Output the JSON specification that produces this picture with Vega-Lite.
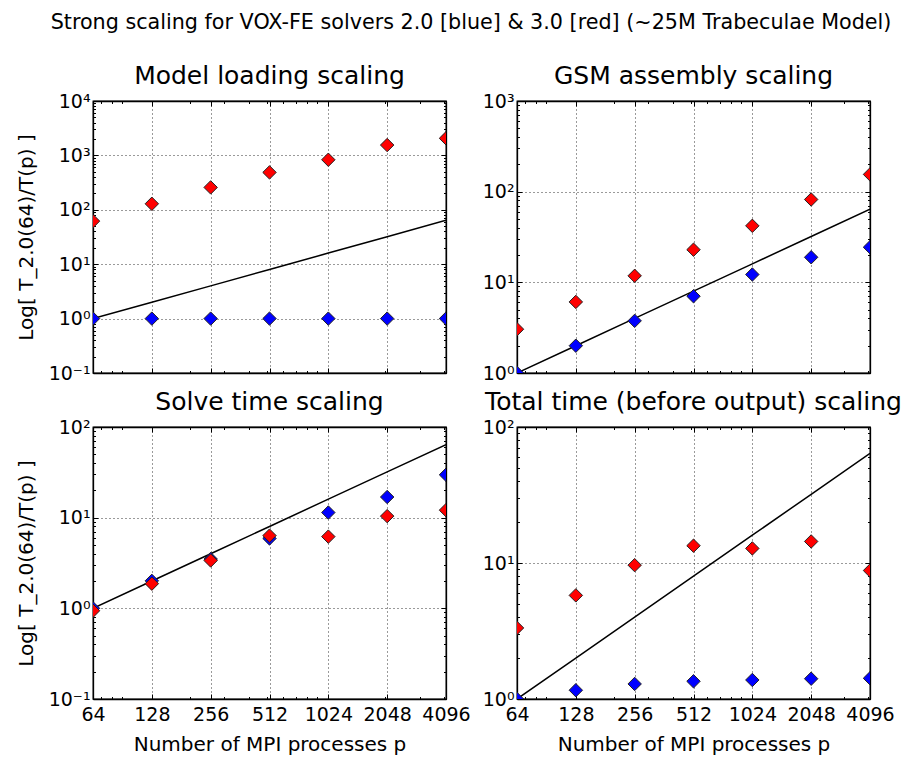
{
  "$schema": "https://vega.github.io/schema/vega-lite/v6.json",
  "padding": {"left": 15, "top": 11, "right": 5, "bottom": 5},
  "title": {"text": "Strong scaling for VOX-FE solvers 2.0 [blue] & 3.0 [red] (~25M Trabeculae Model)", "fontSize": 20.7, "anchor": "middle", "offset": 30, "dx": 12},
  "datasets": {
    "d": [
      {"panel": "load", "series": "ideal", "p": 64, "v": 1},
      {"panel": "load", "series": "ideal", "p": 128, "v": 2},
      {"panel": "load", "series": "ideal", "p": 256, "v": 4},
      {"panel": "load", "series": "ideal", "p": 512, "v": 8},
      {"panel": "load", "series": "ideal", "p": 1024, "v": 16},
      {"panel": "load", "series": "ideal", "p": 2048, "v": 32},
      {"panel": "load", "series": "ideal", "p": 4096, "v": 64},
      {"panel": "load", "series": "2.0", "p": 64, "v": 1},
      {"panel": "load", "series": "2.0", "p": 128, "v": 1},
      {"panel": "load", "series": "2.0", "p": 256, "v": 1},
      {"panel": "load", "series": "2.0", "p": 512, "v": 1},
      {"panel": "load", "series": "2.0", "p": 1024, "v": 1},
      {"panel": "load", "series": "2.0", "p": 2048, "v": 1},
      {"panel": "load", "series": "2.0", "p": 4096, "v": 1},
      {"panel": "load", "series": "3.0", "p": 64, "v": 62},
      {"panel": "load", "series": "3.0", "p": 128, "v": 129},
      {"panel": "load", "series": "3.0", "p": 256, "v": 258},
      {"panel": "load", "series": "3.0", "p": 512, "v": 487},
      {"panel": "load", "series": "3.0", "p": 1024, "v": 832},
      {"panel": "load", "series": "3.0", "p": 2048, "v": 1550},
      {"panel": "load", "series": "3.0", "p": 4096, "v": 2060},

      {"panel": "gsm", "series": "ideal", "p": 64, "v": 1},
      {"panel": "gsm", "series": "ideal", "p": 128, "v": 2},
      {"panel": "gsm", "series": "ideal", "p": 256, "v": 4},
      {"panel": "gsm", "series": "ideal", "p": 512, "v": 8},
      {"panel": "gsm", "series": "ideal", "p": 1024, "v": 16},
      {"panel": "gsm", "series": "ideal", "p": 2048, "v": 32},
      {"panel": "gsm", "series": "ideal", "p": 4096, "v": 64},
      {"panel": "gsm", "series": "2.0", "p": 64, "v": 1.0},
      {"panel": "gsm", "series": "2.0", "p": 128, "v": 2.0},
      {"panel": "gsm", "series": "2.0", "p": 256, "v": 3.76},
      {"panel": "gsm", "series": "2.0", "p": 512, "v": 7.03},
      {"panel": "gsm", "series": "2.0", "p": 1024, "v": 12.2},
      {"panel": "gsm", "series": "2.0", "p": 2048, "v": 18.9},
      {"panel": "gsm", "series": "2.0", "p": 4096, "v": 24.4},
      {"panel": "gsm", "series": "3.0", "p": 64, "v": 3.04},
      {"panel": "gsm", "series": "3.0", "p": 128, "v": 6.08},
      {"panel": "gsm", "series": "3.0", "p": 256, "v": 11.8},
      {"panel": "gsm", "series": "3.0", "p": 512, "v": 22.9},
      {"panel": "gsm", "series": "3.0", "p": 1024, "v": 42},
      {"panel": "gsm", "series": "3.0", "p": 2048, "v": 82},
      {"panel": "gsm", "series": "3.0", "p": 4096, "v": 155},

      {"panel": "solve", "series": "ideal", "p": 64, "v": 1},
      {"panel": "solve", "series": "ideal", "p": 128, "v": 2},
      {"panel": "solve", "series": "ideal", "p": 256, "v": 4},
      {"panel": "solve", "series": "ideal", "p": 512, "v": 8},
      {"panel": "solve", "series": "ideal", "p": 1024, "v": 16},
      {"panel": "solve", "series": "ideal", "p": 2048, "v": 32},
      {"panel": "solve", "series": "ideal", "p": 4096, "v": 64},
      {"panel": "solve", "series": "2.0", "p": 64, "v": 1.0},
      {"panel": "solve", "series": "2.0", "p": 128, "v": 2.01},
      {"panel": "solve", "series": "2.0", "p": 256, "v": 3.5},
      {"panel": "solve", "series": "2.0", "p": 512, "v": 5.9},
      {"panel": "solve", "series": "2.0", "p": 1024, "v": 11.4},
      {"panel": "solve", "series": "2.0", "p": 2048, "v": 16.9},
      {"panel": "solve", "series": "2.0", "p": 4096, "v": 29.7},
      {"panel": "solve", "series": "3.0", "p": 64, "v": 0.94},
      {"panel": "solve", "series": "3.0", "p": 128, "v": 1.87},
      {"panel": "solve", "series": "3.0", "p": 256, "v": 3.37},
      {"panel": "solve", "series": "3.0", "p": 512, "v": 6.34},
      {"panel": "solve", "series": "3.0", "p": 1024, "v": 6.18},
      {"panel": "solve", "series": "3.0", "p": 2048, "v": 10.4},
      {"panel": "solve", "series": "3.0", "p": 4096, "v": 12.1},

      {"panel": "total", "series": "ideal", "p": 64, "v": 1},
      {"panel": "total", "series": "ideal", "p": 128, "v": 2},
      {"panel": "total", "series": "ideal", "p": 256, "v": 4},
      {"panel": "total", "series": "ideal", "p": 512, "v": 8},
      {"panel": "total", "series": "ideal", "p": 1024, "v": 16},
      {"panel": "total", "series": "ideal", "p": 2048, "v": 32},
      {"panel": "total", "series": "ideal", "p": 4096, "v": 64},
      {"panel": "total", "series": "2.0", "p": 64, "v": 1.0},
      {"panel": "total", "series": "2.0", "p": 128, "v": 1.16},
      {"panel": "total", "series": "2.0", "p": 256, "v": 1.29},
      {"panel": "total", "series": "2.0", "p": 512, "v": 1.35},
      {"panel": "total", "series": "2.0", "p": 1024, "v": 1.38},
      {"panel": "total", "series": "2.0", "p": 2048, "v": 1.41},
      {"panel": "total", "series": "2.0", "p": 4096, "v": 1.42},
      {"panel": "total", "series": "3.0", "p": 64, "v": 3.33},
      {"panel": "total", "series": "3.0", "p": 128, "v": 5.78},
      {"panel": "total", "series": "3.0", "p": 256, "v": 9.64},
      {"panel": "total", "series": "3.0", "p": 512, "v": 13.4},
      {"panel": "total", "series": "3.0", "p": 1024, "v": 12.8},
      {"panel": "total", "series": "3.0", "p": 2048, "v": 14.4},
      {"panel": "total", "series": "3.0", "p": 4096, "v": 8.8}
    ]
  },
  "data": {"name": "d"},
  "columns": 2,
  "spacing": {"row": 54, "column": 71},
  "bounds": "flush",
  "concat": [
    {
      "title": "Model loading scaling",
      "width": 353, "height": 272,
      "layer": [
        {
          "transform": [{"filter": "datum.panel == 'load' && datum.series == 'ideal'"}],
          "mark": {"type": "line", "color": "black", "strokeWidth": 1.5, "clip": true},
          "encoding": {
            "x": {"field": "p", "type": "quantitative", "scale": {"type": "log", "base": 2, "domain": [64, 4096], "nice": false},
              "axis": {"orient": "bottom", "title": null, "labels": false, "values": [64,70,80,90,128,200,256,300,400,500,512,600,700,800,900,1024,2000,2048,3000,4000,4096],
                "grid": true, "gridOpacity": {"condition": {"test": "indexof([64,128,256,512,1024,2048,4096], datum.value) >= 0", "value": 1}, "value": 0},
                "tickSize": {"condition": {"test": "indexof([64,128,256,512,1024,2048,4096], datum.value) >= 0", "value": -5}, "value": -2.5}}},
            "y": {"field": "v", "type": "quantitative", "scale": {"type": "log", "domain": [0.1, 10000], "nice": false},
              "axis": {"orient": "left", "title": "Log[ T_2.0(64)/T(p) ]", "titlePadding": 12, "labelPadding": 8,
                "values": [0.1,0.2,0.3,0.4,0.5,0.6,0.7,0.8,0.9,1,2,3,4,5,6,7,8,9,10,20,30,40,50,60,70,80,90,100,200,300,400,500,600,700,800,900,1000,2000,3000,4000,5000,6000,7000,8000,9000,10000],
                "labelExpr": "datum.value == 10000 ? '10⁴' : datum.value == 1000 ? '10³' : datum.value == 100 ? '10²' : datum.value == 10 ? '10¹' : datum.value == 1 ? '10⁰' : datum.value == 0.1 ? '10⁻¹' : ''",
                "grid": true, "gridOpacity": {"condition": {"test": "abs(log(datum.value)/LN10 - round(log(datum.value)/LN10)) < 0.000001", "value": 1}, "value": 0},
                "tickSize": {"condition": {"test": "abs(log(datum.value)/LN10 - round(log(datum.value)/LN10)) < 0.000001", "value": -5}, "value": -2.5}}}
          }
        },
        {
          "transform": [{"filter": "datum.panel == 'load' && datum.series != 'ideal'"}],
          "mark": {"type": "point", "shape": "diamond", "filled": true, "size": 180, "stroke": "#222222", "strokeWidth": 1, "opacity": 1, "clip": true},
          "encoding": {
            "x": {"field": "p", "type": "quantitative", "scale": {"type": "log", "base": 2, "domain": [64, 4096], "nice": false},
              "axis": {"orient": "top", "title": null, "labels": false, "grid": false, "values": [64,70,80,90,128,200,256,300,400,500,512,600,700,800,900,1024,2000,2048,3000,4000,4096],
                "tickSize": {"condition": {"test": "indexof([64,128,256,512,1024,2048,4096], datum.value) >= 0", "value": -5}, "value": -2.5}}},
            "y": {"field": "v", "type": "quantitative", "scale": {"type": "log", "domain": [0.1, 10000], "nice": false},
              "axis": {"orient": "right", "title": null, "labels": false, "grid": false,
                "values": [0.1,0.2,0.3,0.4,0.5,0.6,0.7,0.8,0.9,1,2,3,4,5,6,7,8,9,10,20,30,40,50,60,70,80,90,100,200,300,400,500,600,700,800,900,1000,2000,3000,4000,5000,6000,7000,8000,9000,10000],
                "tickSize": {"condition": {"test": "abs(log(datum.value)/LN10 - round(log(datum.value)/LN10)) < 0.000001", "value": -5}, "value": -2.5}}},
            "color": {"field": "series", "type": "nominal", "scale": {"domain": ["2.0", "3.0"], "range": ["#0000ff", "#ff0000"]}, "legend": null}
          }
        }
      ],
      "resolve": {"axis": {"x": "independent", "y": "independent"}}
    },
    {
      "title": "GSM assembly scaling",
      "width": 353, "height": 272,
      "layer": [
        {
          "transform": [{"filter": "datum.panel == 'gsm' && datum.series == 'ideal'"}],
          "mark": {"type": "line", "color": "black", "strokeWidth": 1.5, "clip": true},
          "encoding": {
            "x": {"field": "p", "type": "quantitative", "scale": {"type": "log", "base": 2, "domain": [64, 4096], "nice": false},
              "axis": {"orient": "bottom", "title": null, "labels": false, "values": [64,70,80,90,128,200,256,300,400,500,512,600,700,800,900,1024,2000,2048,3000,4000,4096],
                "grid": true, "gridOpacity": {"condition": {"test": "indexof([64,128,256,512,1024,2048,4096], datum.value) >= 0", "value": 1}, "value": 0},
                "tickSize": {"condition": {"test": "indexof([64,128,256,512,1024,2048,4096], datum.value) >= 0", "value": -5}, "value": -2.5}}},
            "y": {"field": "v", "type": "quantitative", "scale": {"type": "log", "domain": [1, 1000], "nice": false},
              "axis": {"orient": "left", "title": null, "labelPadding": 8,
                "values": [1,2,3,4,5,6,7,8,9,10,20,30,40,50,60,70,80,90,100,200,300,400,500,600,700,800,900,1000],
                "labelExpr": "datum.value == 10000 ? '10⁴' : datum.value == 1000 ? '10³' : datum.value == 100 ? '10²' : datum.value == 10 ? '10¹' : datum.value == 1 ? '10⁰' : datum.value == 0.1 ? '10⁻¹' : ''",
                "grid": true, "gridOpacity": {"condition": {"test": "abs(log(datum.value)/LN10 - round(log(datum.value)/LN10)) < 0.000001", "value": 1}, "value": 0},
                "tickSize": {"condition": {"test": "abs(log(datum.value)/LN10 - round(log(datum.value)/LN10)) < 0.000001", "value": -5}, "value": -2.5}}}
          }
        },
        {
          "transform": [{"filter": "datum.panel == 'gsm' && datum.series != 'ideal'"}],
          "mark": {"type": "point", "shape": "diamond", "filled": true, "size": 180, "stroke": "#222222", "strokeWidth": 1, "opacity": 1, "clip": true},
          "encoding": {
            "x": {"field": "p", "type": "quantitative", "scale": {"type": "log", "base": 2, "domain": [64, 4096], "nice": false},
              "axis": {"orient": "top", "title": null, "labels": false, "grid": false, "values": [64,70,80,90,128,200,256,300,400,500,512,600,700,800,900,1024,2000,2048,3000,4000,4096],
                "tickSize": {"condition": {"test": "indexof([64,128,256,512,1024,2048,4096], datum.value) >= 0", "value": -5}, "value": -2.5}}},
            "y": {"field": "v", "type": "quantitative", "scale": {"type": "log", "domain": [1, 1000], "nice": false},
              "axis": {"orient": "right", "title": null, "labels": false, "grid": false,
                "values": [1,2,3,4,5,6,7,8,9,10,20,30,40,50,60,70,80,90,100,200,300,400,500,600,700,800,900,1000],
                "tickSize": {"condition": {"test": "abs(log(datum.value)/LN10 - round(log(datum.value)/LN10)) < 0.000001", "value": -5}, "value": -2.5}}},
            "color": {"field": "series", "type": "nominal", "scale": {"domain": ["2.0", "3.0"], "range": ["#0000ff", "#ff0000"]}, "legend": null}
          }
        }
      ],
      "resolve": {"axis": {"x": "independent", "y": "independent"}}
    },
    {
      "title": "Solve time scaling",
      "width": 353, "height": 272,
      "layer": [
        {
          "transform": [{"filter": "datum.panel == 'solve' && datum.series == 'ideal'"}],
          "mark": {"type": "line", "color": "black", "strokeWidth": 1.5, "clip": true},
          "encoding": {
            "x": {"field": "p", "type": "quantitative", "scale": {"type": "log", "base": 2, "domain": [64, 4096], "nice": false},
              "axis": {"orient": "bottom", "title": "Number of MPI processes p", "titlePadding": 8, "labelPadding": 11, "format": "d", "values": [64,70,80,90,128,200,256,300,400,500,512,600,700,800,900,1024,2000,2048,3000,4000,4096],
                "labelExpr": "indexof([64,128,256,512,1024,2048,4096], datum.value) >= 0 ? datum.label : ''",
                "grid": true, "gridOpacity": {"condition": {"test": "indexof([64,128,256,512,1024,2048,4096], datum.value) >= 0", "value": 1}, "value": 0},
                "tickSize": {"condition": {"test": "indexof([64,128,256,512,1024,2048,4096], datum.value) >= 0", "value": -5}, "value": -2.5}}},
            "y": {"field": "v", "type": "quantitative", "scale": {"type": "log", "domain": [0.1, 100], "nice": false},
              "axis": {"orient": "left", "title": "Log[ T_2.0(64)/T(p) ]", "titlePadding": 12, "labelPadding": 8,
                "values": [0.1,0.2,0.3,0.4,0.5,0.6,0.7,0.8,0.9,1,2,3,4,5,6,7,8,9,10,20,30,40,50,60,70,80,90,100],
                "labelExpr": "datum.value == 10000 ? '10⁴' : datum.value == 1000 ? '10³' : datum.value == 100 ? '10²' : datum.value == 10 ? '10¹' : datum.value == 1 ? '10⁰' : datum.value == 0.1 ? '10⁻¹' : ''",
                "grid": true, "gridOpacity": {"condition": {"test": "abs(log(datum.value)/LN10 - round(log(datum.value)/LN10)) < 0.000001", "value": 1}, "value": 0},
                "tickSize": {"condition": {"test": "abs(log(datum.value)/LN10 - round(log(datum.value)/LN10)) < 0.000001", "value": -5}, "value": -2.5}}}
          }
        },
        {
          "transform": [{"filter": "datum.panel == 'solve' && datum.series != 'ideal'"}],
          "mark": {"type": "point", "shape": "diamond", "filled": true, "size": 180, "stroke": "#222222", "strokeWidth": 1, "opacity": 1, "clip": true},
          "encoding": {
            "x": {"field": "p", "type": "quantitative", "scale": {"type": "log", "base": 2, "domain": [64, 4096], "nice": false},
              "axis": {"orient": "top", "title": null, "labels": false, "grid": false, "values": [64,70,80,90,128,200,256,300,400,500,512,600,700,800,900,1024,2000,2048,3000,4000,4096],
                "tickSize": {"condition": {"test": "indexof([64,128,256,512,1024,2048,4096], datum.value) >= 0", "value": -5}, "value": -2.5}}},
            "y": {"field": "v", "type": "quantitative", "scale": {"type": "log", "domain": [0.1, 100], "nice": false},
              "axis": {"orient": "right", "title": null, "labels": false, "grid": false,
                "values": [0.1,0.2,0.3,0.4,0.5,0.6,0.7,0.8,0.9,1,2,3,4,5,6,7,8,9,10,20,30,40,50,60,70,80,90,100],
                "tickSize": {"condition": {"test": "abs(log(datum.value)/LN10 - round(log(datum.value)/LN10)) < 0.000001", "value": -5}, "value": -2.5}}},
            "color": {"field": "series", "type": "nominal", "scale": {"domain": ["2.0", "3.0"], "range": ["#0000ff", "#ff0000"]}, "legend": null}
          }
        }
      ],
      "resolve": {"axis": {"x": "independent", "y": "independent"}}
    },
    {
      "title": "Total time (before output) scaling",
      "width": 353, "height": 272,
      "layer": [
        {
          "transform": [{"filter": "datum.panel == 'total' && datum.series == 'ideal'"}],
          "mark": {"type": "line", "color": "black", "strokeWidth": 1.5, "clip": true},
          "encoding": {
            "x": {"field": "p", "type": "quantitative", "scale": {"type": "log", "base": 2, "domain": [64, 4096], "nice": false},
              "axis": {"orient": "bottom", "title": "Number of MPI processes p", "titlePadding": 8, "labelPadding": 11, "format": "d", "values": [64,70,80,90,128,200,256,300,400,500,512,600,700,800,900,1024,2000,2048,3000,4000,4096],
                "labelExpr": "indexof([64,128,256,512,1024,2048,4096], datum.value) >= 0 ? datum.label : ''",
                "grid": true, "gridOpacity": {"condition": {"test": "indexof([64,128,256,512,1024,2048,4096], datum.value) >= 0", "value": 1}, "value": 0},
                "tickSize": {"condition": {"test": "indexof([64,128,256,512,1024,2048,4096], datum.value) >= 0", "value": -5}, "value": -2.5}}},
            "y": {"field": "v", "type": "quantitative", "scale": {"type": "log", "domain": [1, 100], "nice": false},
              "axis": {"orient": "left", "title": null, "labelPadding": 8,
                "values": [1,2,3,4,5,6,7,8,9,10,20,30,40,50,60,70,80,90,100],
                "labelExpr": "datum.value == 10000 ? '10⁴' : datum.value == 1000 ? '10³' : datum.value == 100 ? '10²' : datum.value == 10 ? '10¹' : datum.value == 1 ? '10⁰' : datum.value == 0.1 ? '10⁻¹' : ''",
                "grid": true, "gridOpacity": {"condition": {"test": "abs(log(datum.value)/LN10 - round(log(datum.value)/LN10)) < 0.000001", "value": 1}, "value": 0},
                "tickSize": {"condition": {"test": "abs(log(datum.value)/LN10 - round(log(datum.value)/LN10)) < 0.000001", "value": -5}, "value": -2.5}}}
          }
        },
        {
          "transform": [{"filter": "datum.panel == 'total' && datum.series != 'ideal'"}],
          "mark": {"type": "point", "shape": "diamond", "filled": true, "size": 180, "stroke": "#222222", "strokeWidth": 1, "opacity": 1, "clip": true},
          "encoding": {
            "x": {"field": "p", "type": "quantitative", "scale": {"type": "log", "base": 2, "domain": [64, 4096], "nice": false},
              "axis": {"orient": "top", "title": null, "labels": false, "grid": false, "values": [64,70,80,90,128,200,256,300,400,500,512,600,700,800,900,1024,2000,2048,3000,4000,4096],
                "tickSize": {"condition": {"test": "indexof([64,128,256,512,1024,2048,4096], datum.value) >= 0", "value": -5}, "value": -2.5}}},
            "y": {"field": "v", "type": "quantitative", "scale": {"type": "log", "domain": [1, 100], "nice": false},
              "axis": {"orient": "right", "title": null, "labels": false, "grid": false,
                "values": [1,2,3,4,5,6,7,8,9,10,20,30,40,50,60,70,80,90,100],
                "tickSize": {"condition": {"test": "abs(log(datum.value)/LN10 - round(log(datum.value)/LN10)) < 0.000001", "value": -5}, "value": -2.5}}},
            "color": {"field": "series", "type": "nominal", "scale": {"domain": ["2.0", "3.0"], "range": ["#0000ff", "#ff0000"]}, "legend": null}
          }
        }
      ],
      "resolve": {"axis": {"x": "independent", "y": "independent"}}
    }
  ],
  "config": {
    "font": "DejaVu Sans",
    "background": "white",
    "view": {"stroke": "black", "strokeWidth": 1.3},
    "axis": {"domainColor": "black", "domainWidth": 1.3, "tickColor": "black", "tickWidth": 1, "labelColor": "black", "labelFont": "DejaVu Sans", "labelFontSize": 19, "titleFont": "DejaVu Sans", "titleFontSize": 20, "titleFontWeight": "normal", "titleColor": "black", "gridColor": "black", "gridDash": [1, 3], "gridWidth": 0.8, "labelOverlap": false, "labelFlush": false},
    "title": {"font": "DejaVu Sans", "fontWeight": "normal", "color": "black", "fontSize": 25, "offset": 3}
  }
}
